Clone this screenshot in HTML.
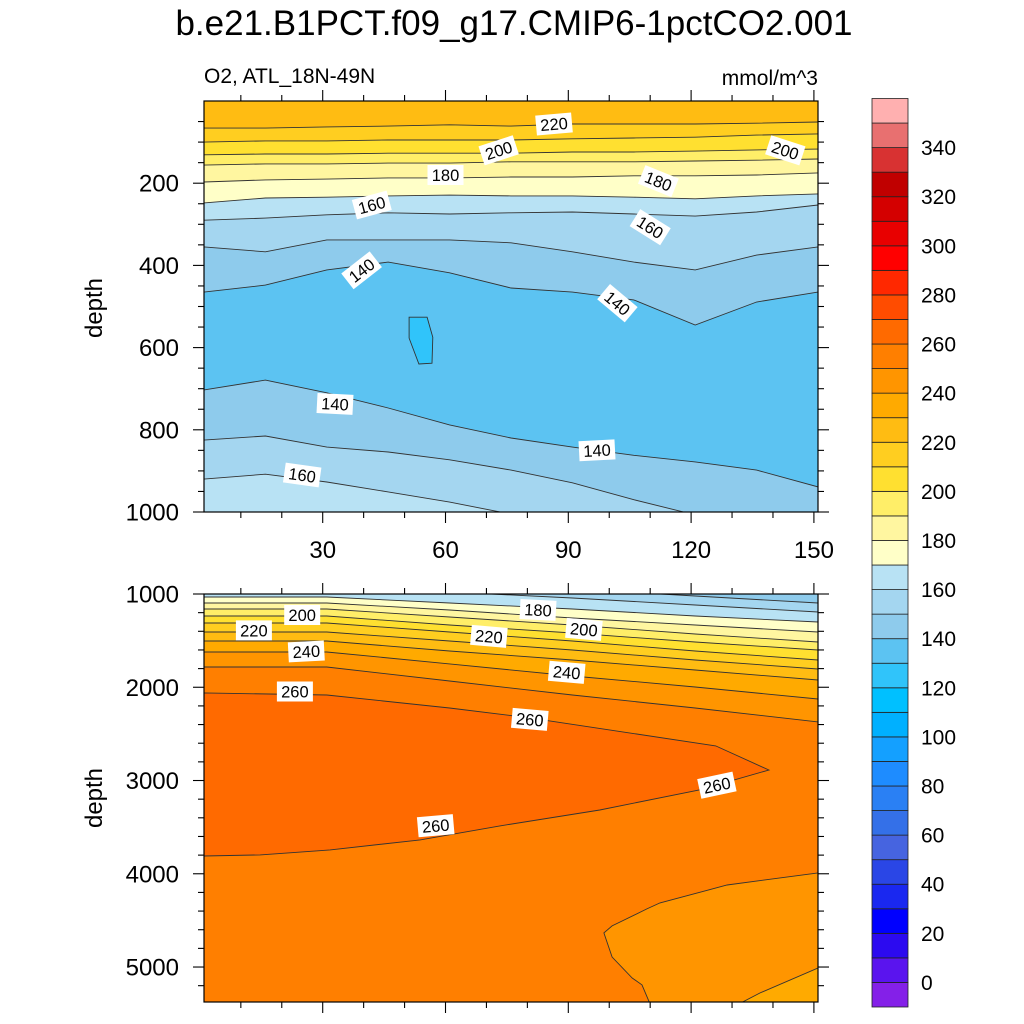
<!DOCTYPE html>
<html><head><meta charset="utf-8"><style>
html,body{margin:0;padding:0;background:#fff;}
svg{display:block;font-family:"Liberation Sans",sans-serif;}
</style></head><body>
<svg id="chart" width="1024" height="1024" viewBox="0 0 1024 1024" xmlns="http://www.w3.org/2000/svg">
<text x="514" y="35" font-size="35" text-anchor="middle">b.e21.B1PCT.f09_g17.CMIP6-1pctCO2.001</text>
<text x="204" y="83" font-size="21">O2, ATL_18N-49N</text>
<text x="818" y="85" font-size="21" text-anchor="end">mmol/m^3</text>
<text transform="translate(102,308) rotate(-90)" font-size="24" text-anchor="middle">depth</text>
<text transform="translate(102,798) rotate(-90)" font-size="24" text-anchor="middle">depth</text>
<defs>
<clipPath id="clipTop"><rect x="204" y="101" width="614" height="411"/></clipPath>
<clipPath id="clipBot"><rect x="204" y="594" width="614" height="408"/></clipPath>
</defs>
<g id="topPanel"></g>
<g id="botPanel"></g>
<g id="colorbar"></g>
</svg>
<script>
// ---- data ----
const bandColors = ["#8420e8","#5a14ee","#2c0af0","#0000ff","#1a28f0","#2a46e6","#4664e0","#3470e8","#2a80f4","#1e8cff","#14a0ff","#00b0ff","#00c0ff","#30c4fa","#5cc3f2","#8ecbec","#a4d6f0","#b8e2f4","#ffffc8","#fff6a0","#ffee68","#ffe030","#ffce20","#ffbc12","#ffaa00","#ff9500","#ff7f00","#ff6a00","#ff4c00","#ff2800","#ff0000","#e80000","#d40000","#c00000","#d83232","#e87070","#ffb0b0"];
const colorbarLabels = [0,20,40,60,80,100,120,140,160,180,200,220,240,260,280,300,320,340];
const xTickLabels = [30,60,90,120,150];
const topDepthTicks = [200,400,600,800,1000];
const botDepthTicks = [1000,2000,3000,4000,5000];

const topYears = [1,16,31,46,61,76,91,106,121,136,151];
const topBase = 220;
const topLevels = [220,210,200,190,180,170,160,150,140,140,150,160];
const topBelow  = [210,200,190,180,170,160,150,140,130,140,150,160];
const top220 = [66,66,63,61,58,61,56,56,56,54,51];
const top210 = [100,97,97,95,95,95,92,90,88,83,80];
const top200 = [131,129,129,127,127,127,124,124,122,119,117];
const top190 = [156,153,153,151,151,148,148,148,146,144,141];
const top180 = [197,192,190,187,187,185,185,182,182,180,175];
const top170 = [248,236,234,231,229,231,231,234,238,231,226];
const top160 = [290,285,277,272,275,272,270,275,280,270,253];
const top150 = [355,367,338,338,338,345,367,392,411,375,355];
const top140u = [465,448,411,392,418,455,465,484,545,489,465];
const top140l = [703,679,710,747,788,820,842,862,878,898,939];
const top150l = [825,815,842,854,873,898,929,970,1007,1060,1100];
const top160l = [920,908,927,951,976,1005,1050,1100,1100,1100,1100];
const blobYears = [51.1,55.5,56.9,56.7,53.5,51.1];
const blobDepth = [526,526,575,638,640,577];
const blobBand = 120;
const topLabelText = ["220","200","200","180","180","160","160","140","140","140","140","160"];
const topLabelYear = [86.5,73,143,60,112,42,110,39.5,102,33,97,25];
const topLabelDepth = [56,120,120,180,195,253,307,412,492,737,850,910];
const topLabelRot = [-5,-18,18,0,22,-15,32,-38,40,3,-3,8];

const botYears = [1,31,61,91,121,151];
const botBase = 140;
const botLevels = [150,160,170,180,190,200,210,220,230,240,250];
const bot150 = [796,796,871,946,1021,1096];
const bot160 = [904,904,979,1043,1118,1193];
const bot170 = [1032,1032,1096,1161,1236,1300];
const bot180 = [1096,1096,1172,1257,1332,1407];
const bot190 = [1161,1161,1247,1332,1429,1515];
const bot200 = [1236,1236,1332,1418,1515,1600];
const bot210 = [1311,1311,1407,1504,1611,1708];
const bot220 = [1407,1407,1504,1600,1708,1804];
const bot230 = [1504,1504,1611,1708,1815,1922];
const bot240 = [1622,1622,1750,1879,1997,2126];
const bot250 = [1783,1783,1933,2083,2222,2372];
const wedgeYears = [1,31,61,80.6,126,139,122,97.7,73.3,53.8,31.8,14.7,1];
const wedgeDepth = [2061,2083,2222,2329,2629,2887,3101,3316,3487,3637,3744,3798,3809];
const wedgeBand = 260;
const blob240Years = [151,128.8,112.4,109.2,100.7,98.7,100.7,105.6,108,110,151];
const blob240Depth = [3991,4120,4312,4377,4559,4634,4892,5118,5192,5400,5400];
const blob240Band = 240;
const blob230Years = [131.5,136.8,151,151];
const blob230Depth = [5400,5278,5010,5400];
const blob230Band = 230;
const botLabelText = ["200","180","220","220","200","240","240","260","260","260","260"];
const botLabelYear = [25,82.6,13.2,70.6,93.8,26,89.6,23.2,80.6,126.3,57.6];
const botLabelDepth = [1225,1170,1390,1455,1380,1615,1840,2045,2345,3050,3485];
const botLabelRot = [0,3,0,5,5,-3,5,0,5,-12,-5];

// ---- helpers ----
const NS="http://www.w3.org/2000/svg";
function mk(tag, attrs, parent){const e=document.createElementNS(NS,tag);for(const k in attrs)e.setAttribute(k,attrs[k]);parent.appendChild(e);return e;}
const xScale = yr => 204 + (yr-1)*(614/150);
const yTop = d => 101 + d*(411/1000);
const yBot = d => 594 + (d-1000)*(408/4375);
const bandColor = v => bandColors[Math.round(v/10)+1];

function drawPanel(g, clip, years, lines, levels, below, base, yS, yBottom, extraFills, labels){
  const cg = mk('g',{'clip-path':'url(#'+clip+')'},g);
  const bg = mk('rect',{x:204,y:yS===yTop?101:594,width:614,height:yS===yTop?411:408,fill:bandColor(base)},cg);
  
  
  lines.forEach((arr,i)=>{
    const pts = arr.map((d,j)=>xScale(years[j]).toFixed(1)+','+yS(d).toFixed(1));
    const poly = mk('polygon',{points:pts.join(' ')+' 830,'+(yBottom+20)+' 190,'+(yBottom+20),fill:bandColor(below[i])},cg);
    
    
  });
  lines.forEach((arr,i)=>{
    const pts = arr.map((d,j)=>xScale(years[j]).toFixed(1)+','+yS(d).toFixed(1));
    const pl = mk('polyline',{points:pts.join(' '),fill:'none',stroke:'#333','stroke-width':0.9},cg);
    
    
  });
  extraFills.forEach(f=>{
    const pts = f.yr.map((y,j)=>xScale(y).toFixed(1)+','+yS(f.d[j]).toFixed(1));
    const p = mk('polygon',{points:pts.join(' '),fill:bandColor(f.band),stroke:'#333','stroke-width':0.9},cg);
    
    
  });
  labels.text.forEach((t,i)=>{
    const x=xScale(labels.yr[i]), y=yS(labels.d[i]);
    const lg = mk('g',{transform:'translate('+x.toFixed(1)+','+y.toFixed(1)+') rotate('+labels.rot[i]+')'},cg);
    
    
    mk('rect',{x:-18,y:-10,width:36,height:20,fill:'#fff'},lg);
    const tx = mk('text',{x:0,y:6,'font-size':16.5,'text-anchor':'middle'},lg);
    tx.textContent=t;
  });
  const fr = mk('rect',{x:204,y:yS===yTop?101:594,width:614,height:yS===yTop?411:408,fill:'none',stroke:'#000','stroke-width':1.2},g);
  
  
}

function drawTicks(g, top, bottom, yS, majors, minorStart, minorEnd, minorStep, showX){
  const ax = mk('g',{stroke:'#000','stroke-width':1.1},g);
  for(let yr=10; yr<=150; yr+=10){
    const x=xScale(yr), L = yr%30===0?11:6;
    mk('line',{x1:x,y1:top,x2:x,y2:top-L},ax);
    mk('line',{x1:x,y1:bottom,x2:x,y2:bottom+L},ax);
  }
  for(let d=minorStart; d<=minorEnd; d+=minorStep){
    const y=yS(d), L = majors.includes(d)?11:6;
    mk('line',{x1:204,y1:y,x2:204-L,y2:y},ax);
    mk('line',{x1:818,y1:y,x2:818+L,y2:y},ax);
  }
  majors.forEach(d=>{
    const t = mk('text',{x:179,y:yS(d)+8.5,'font-size':24,'text-anchor':'end'},g);
    
    
    t.textContent=d;
  });
  if(showX){
    xTickLabels.forEach(v=>{
      const t = mk('text',{x:xScale(v),y:bottom+46,'font-size':24,'text-anchor':'middle'},g);
      
      
      t.textContent=v;
    });
  }
}

// ---- top panel ----
const tg=document.getElementById('topPanel');
drawPanel(tg,'clipTop',topYears,[top220,top210,top200,top190,top180,top170,top160,top150,top140u,top140l,top150l,top160l],topLevels,topBelow,topBase,yTop,512,
  [{yr:blobYears,d:blobDepth,band:blobBand}],
  {text:topLabelText,yr:topLabelYear,d:topLabelDepth,rot:topLabelRot});
drawTicks(tg,101,512,yTop,topDepthTicks,50,1000,50,true);

// ---- bottom panel ----
const bg2=document.getElementById('botPanel');
drawPanel(bg2,'clipBot',botYears,[bot150,bot160,bot170,bot180,bot190,bot200,bot210,bot220,bot230,bot240,bot250],botLevels,botLevels,botBase,yBot,1002,
  [{yr:wedgeYears,d:wedgeDepth,band:wedgeBand},{yr:blob240Years,d:blob240Depth,band:blob240Band},{yr:blob230Years,d:blob230Depth,band:blob230Band}],
  {text:botLabelText,yr:botLabelYear,d:botLabelDepth,rot:botLabelRot});
drawTicks(bg2,594,1002,yBot,botDepthTicks,1000,5200,200,false);

// ---- colorbar ----
const cb=document.getElementById('colorbar');
const cbTop=98.5, cbH=908.5/37;
bandColors.forEach((c,i)=>{
  const y = cbTop + (36-i)*cbH;
  const r = mk('rect',{x:872,y:y.toFixed(2),width:36,height:cbH.toFixed(2),fill:c,stroke:'#222','stroke-width':0.8},cb);
  
  
});
colorbarLabels.forEach(v=>{
  const y = cbTop + (36-(v/10+1))*cbH + cbH;
  const t = mk('text',{x:921,y:(y+7.5).toFixed(1),'font-size':21},cb);
  
  
  t.textContent=v;
});
</script>
</body></html>
